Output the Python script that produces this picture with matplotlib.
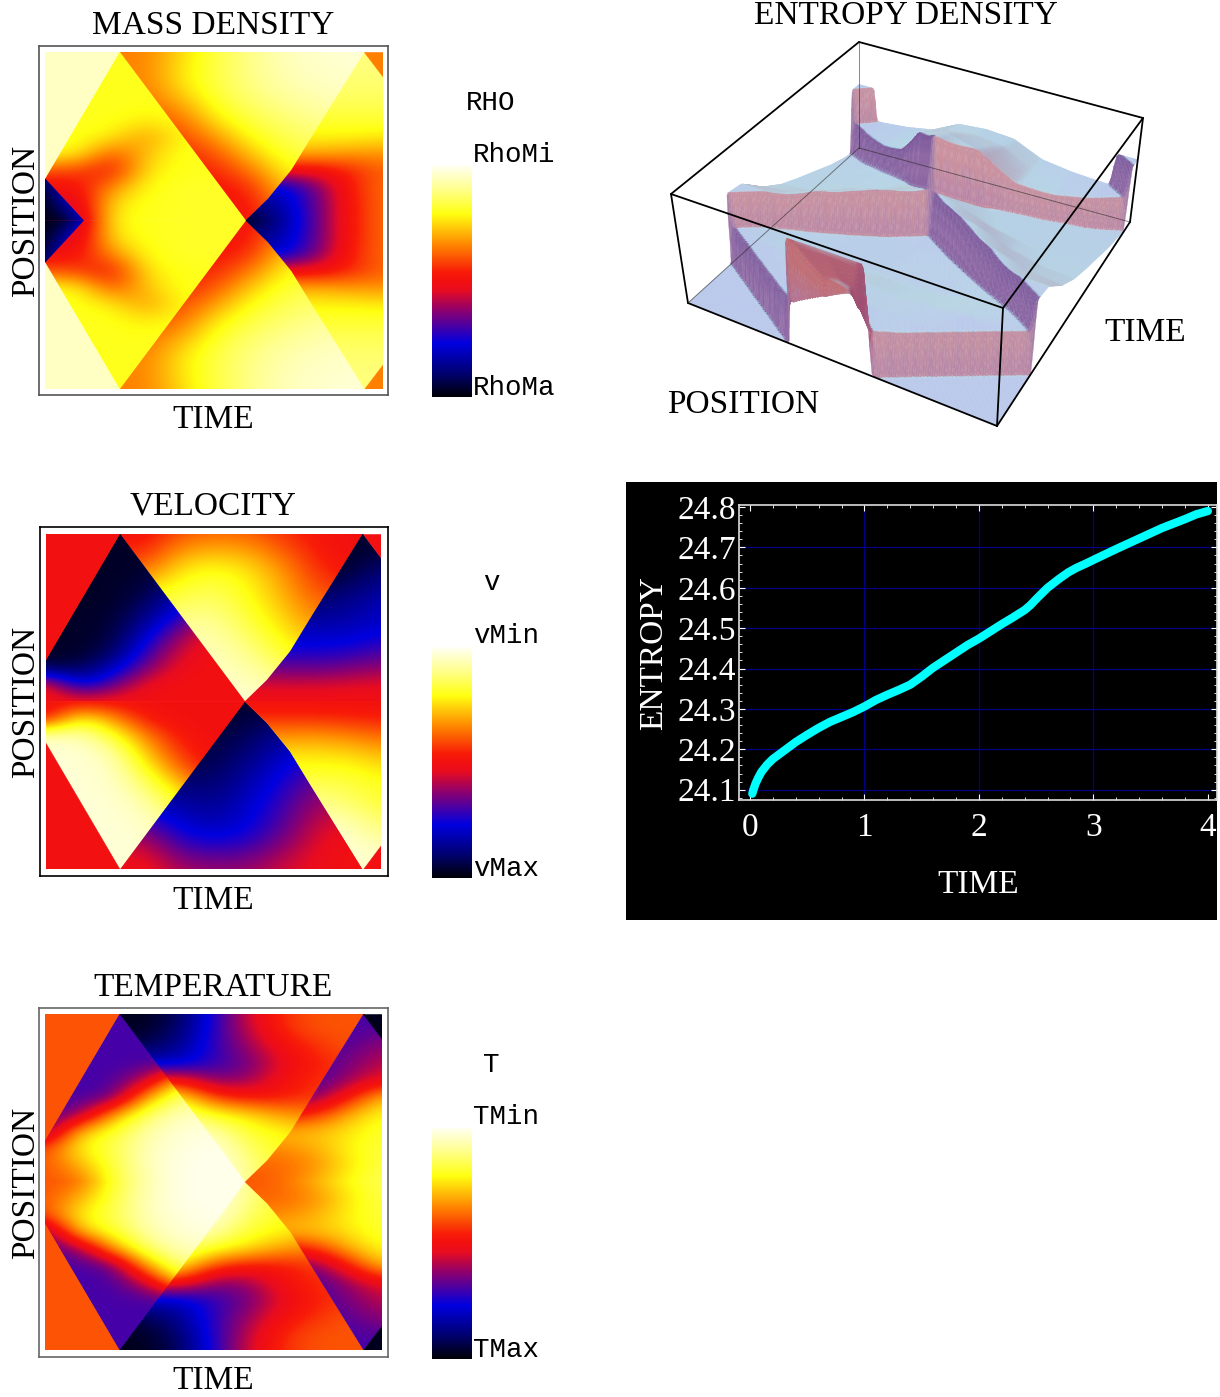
# plot.py — hydro shock-tube panels: three space-time maps, entropy surface, total entropy curve
import numpy as np
import matplotlib
matplotlib.use("Agg")
import matplotlib.pyplot as plt
from matplotlib.collections import PolyCollection
from matplotlib.colors import LinearSegmentedColormap
from matplotlib.patches import Polygon
from matplotlib.path import Path

plt.rcParams["font.family"] = ["Liberation Serif", "DejaVu Serif"]

W, H = 1220, 1397

# --- total entropy curve
ent_time = [0.02, 0.03, 0.05, 0.075, 0.1, 0.15, 0.2, 0.3, 0.4, 0.5, 0.6, 0.7, 0.8, 0.9, 1.0, 1.1, 1.2, 1.3, 1.4, 1.5,
            1.6, 1.75, 1.9, 2.0, 2.1, 2.2, 2.3, 2.4, 2.45, 2.5, 2.6, 2.7, 2.78, 2.85, 2.95, 3.0, 3.2, 3.4, 3.6, 3.8,
            3.9, 4.0]
ent_total = [24.09, 24.1, 24.116, 24.131, 24.144, 24.162, 24.176, 24.197, 24.218, 24.236, 24.253, 24.268, 24.28,
             24.292, 24.306, 24.322, 24.335, 24.347, 24.36, 24.38, 24.402, 24.43, 24.458, 24.474, 24.492, 24.51,
             24.527, 24.545, 24.557, 24.572, 24.6, 24.622, 24.638, 24.649, 24.662, 24.669, 24.696, 24.722, 24.748,
             24.77, 24.782, 24.79]
x_ticks = [0, 1, 2, 3, 4]
y_ticks = [24.1, 24.2, 24.3, 24.4, 24.5, 24.6, 24.7, 24.8]

# --- colour scale stops
cbar_stops = [0.0, 0.1, 0.23, 0.37, 0.46, 0.5, 0.54, 0.65, 0.79, 0.9, 1.0]
cbar_colors = ["#000008", "#000070", "#0000e0", "#8c0070", "#e80c20", "#f21010", "#f81c08", "#ff8000", "#ffff10",
               "#ffff90", "#fffff4"]

# --- region outlines (time, position from the top), upper half; lower half is the mirror image
poly_front = [(0, 0), (0.22, 0), (0, 0.375)]
poly_r2 = [(0, 0.375), (0.22, 0), (0.593, 0.5), (0, 0.5)]
poly_r3 = [(0.22, 0), (0.945, 0), (0.79, 0.25), (0.729, 0.35), (0.66, 0.435), (0.593, 0.5)]
poly_r4 = [(0.945, 0), (1, 0.073), (1, 0.5), (0.593, 0.5), (0.66, 0.435), (0.729, 0.35), (0.79, 0.25)]
poly_r5 = [(0.945, 0), (1, 0), (1, 0.073)]
poly_tip = [(0, 0.375), (0.115, 0.5), (0, 0.5)]

# grid extents of each region: t0, t1, y0, y1
ext_r2 = (0, 0.6, 0, 0.5)
ext_r3 = (0.2, 1, 0, 0.5)
ext_r4 = (0.6, 1, 0, 0.5)
ext_tip = (0, 0.12, 0.375, 0.5)

# --- mass density
rho_front, rho_corner = 0.95, 0.65
rho_r2 = [[.8, .8, .8, .8, .8, .8, .8],
          [.8, .8, .8, .8, .8, .8, .8],
          [.8, .8, .8, .8, .8, .8, .8],
          [.8, .8, .8, .8, .8, .8, .8],
          [.8, .8, .8, .77, .8, .8, .8],
          [.8, .8, .77, .68, .78, .8, .8],
          [.8, .78, .6, .72, .8, .8, .8],
          [.6, .58, .52, .76, .8, .8, .8],
          [.5, .52, .66, .79, .81, .81, .81],
          [.45, .45, .76, .8, .81, .81, .81],
          [.4, .4, .78, .8, .81, .81, .81]]
rho_r3 = [[.65, .65, .74, .83, .89, .94, .96, .97, .97],
          [.66, .66, .78, .84, .89, .93, .95, .96, .97],
          [.6, .6, .62, .78, .84, .87, .9, .92, .93],
          [.55, .55, .55, .58, .74, .82, .84, .85, .85],
          [.52, .52, .52, .52, .53, .72, .8, .8, .8],
          [.5, .5, .5, .5, .52, .6, .7, .7, .7]]
rho_r4 = [[.88, .88, .88, .88, .88],
          [.88, .88, .88, .88, .88],
          [.87, .87, .87, .87, .87],
          [.85, .85, .85, .85, .85],
          [.82, .82, .82, .82, .82],
          [.78, .78, .78, .78, .77],
          [.7, .7, .7, .68, .67],
          [.5, .5, .5, .55, .62],
          [.2, .2, .34, .54, .63],
          [.1, .17, .32, .53, .63],
          [.02, .14, .32, .53, .63]]
rho_tip = [[.1, .2, .3],
           [.01, .2, .3],
           [.01, .01, .22]]

# --- velocity (lower half runs the other way through the scale)
vel_front, vel_corner = 0.5, 0.5
vel_r2 = [[.03, .03, .03, .03, .12, .35, .45],
          [.03, .03, .03, .03, .12, .35, .45],
          [.03, .03, .03, .03, .12, .35, .45],
          [.03, .03, .03, .05, .12, .3, .45],
          [.03, .03, .03, .08, .2, .35, .45],
          [.03, .03, .04, .13, .27, .42, .48],
          [.03, .03, .05, .2, .38, .48, .5],
          [.03, .03, .08, .28, .44, .5, .5],
          [.06, .07, .18, .36, .48, .5, .5],
          [.5, .2, .33, .48, .5, .5, .5],
          [.5, .5, .5, .5, .5, .5, .5]]
vel_r3 = [[.5, .5, .58, .6, .6, .55, .52, .5, .5],
          [.6, .6, .76, .8, .77, .68, .56, .5, .5],
          [.84, .84, .84, .87, .8, .72, .62, .6, .6],
          [.93, .93, .93, .93, .86, .78, .7, .7, .7],
          [.95, .95, .95, .95, .93, .86, .8, .8, .8],
          [.97, .97, .97, .97, .97, .97, .97, .97, .97]]
vel_r4 = [[.03, .03, .03, .03, .05],
          [.03, .03, .03, .03, .05],
          [.03, .03, .03, .04, .1],
          [.05, .05, .06, .08, .14],
          [.08, .08, .1, .13, .18],
          [.14, .14, .15, .16, .2],
          [.2, .2, .2, .2, .24],
          [.25, .25, .25, .26, .3],
          [.34, .34, .33, .35, .38],
          [.44, .44, .44, .45, .46],
          [.5, .5, .5, .5, .5]]

# --- temperature
tmp_front, tmp_corner = 0.6, 0.02
tmp_r2 = [[.3, .3, .3, .3, .3, .3, .3],
          [.3, .3, .3, .3, .3, .3, .3],
          [.3, .3, .3, .3, .3, .3, .3],
          [.3, .3, .3, .3, .3, .3, .3],
          [.3, .3, .3, .42, .75, .85, .85],
          [.3, .3, .32, .7, .88, .9, .9],
          [.3, .36, .68, .86, .94, .95, .95],
          [.32, .72, .81, .92, .97, .98, .98],
          [.58, .78, .84, .94, .98, .99, .99],
          [.6, .7, .83, .94, .99, .99, .99],
          [.6, .62, .82, .93, .99, .99, .99]]
tmp_r3 = [[.02, .02, .08, .26, .44, .56, .6, .6, .6],
          [.02, .03, .1, .27, .42, .55, .6, .6, .6],
          [.05, .08, .14, .28, .38, .5, .56, .6, .6],
          [.2, .2, .2, .28, .34, .46, .54, .57, .57],
          [.5, .5, .52, .36, .38, .5, .56, .57, .57],
          [.78, .78, .78, .58, .52, .53, .57, .57, .57],
          [.88, .88, .88, .8, .75, .68, .65, .65, .65],
          [.95, .95, .95, .92, .82, .78, .75, .75, .75],
          [.98, .98, .98, .98, .86, .8, .8, .8, .8],
          [.99, .99, .99, .99, .9, .8, .8, .8, .8],
          [.99, .99, .99, .99, .9, .8, .8, .8, .8]]
tmp_r4 = [[.3, .3, .3, .3, .3],
          [.3, .3, .3, .3, .32],
          [.3, .3, .3, .32, .38],
          [.3, .3, .3, .35, .42],
          [.3, .3, .3, .38, .48],
          [.35, .35, .35, .52, .72],
          [.5, .5, .55, .7, .79],
          [.72, .72, .72, .76, .82],
          [.66, .66, .7, .78, .83],
          [.62, .62, .66, .76, .84],
          [.6, .62, .7, .79, .85]]

# --- entropy density surface heights, as a fraction of the box height
sur_front, sur_corner = 0.0, 0.6
sur_r2 = [[.33, .33, .33, .33, .33, .33, .33],
          [.33, .33, .33, .3, .3, .3, .3],
          [.33, .33, .33, .25, .22, .2, .2],
          [.33, .33, .3, .2, .18, .15, .15],
          [.36, .35, .28, .18, .15, .12, .12],
          [.36, .36, .3, .18, .13, .1, .1]]
sur_r3 = [[.63, .6, .42, .3, .22, .15, .08, .03, 0],
          [.63, .6, .45, .32, .24, .17, .1, .04, .02],
          [.6, .6, .55, .38, .27, .2, .14, .1, .1],
          [.58, .58, .58, .5, .32, .25, .2, .18, .18],
          [.55, .55, .55, .55, .42, .3, .28, .28, .28],
          [.52, .52, .52, .52, .5, .35, .35, .35, .35]]
sur_r4 = [[.3, .3, .3, .3, .3],
          [.3, .3, .3, .3, .3],
          [.35, .35, .35, .33, .32],
          [.5, .5, .45, .4, .36],
          [.8, .8, .68, .55, .48],
          [1, .88, .72, .58, .5]]
sur_tip = [[.97, .5, .36],
           [.97, .55, .36],
           [.97, .6, .36]]

# box corners on the page: (position, time) = left (0,0), front (1,0), right (1,1), back (0,1)
box_floor = {"left": (688, 303), "front": (997, 426), "right": (1130, 222), "back": (859, 148)}
box_top = {"left": (671, 194), "front": (1003, 308), "right": (1143, 118), "back": (859, 42)}
persp_u, persp_t = 1.18, 0.79  # foreshortening along each floor edge

CMAP = LinearSegmentedColormap.from_list("hot_bar", list(zip(cbar_stops, cbar_colors)), N=512)


def px_axes(fig, x0, y0, x1, y1, **kw):
    """Axes from page pixel box, y measured from the top."""
    return fig.add_axes([x0 / W, 1 - y1 / H, (x1 - x0) / W, (y1 - y0) / H], **kw)


def draw_grid(ax, poly, ext, vals, flip, invert):
    """One region: smooth image of the read grid, clipped to the region outline."""
    vals = np.array(vals, dtype=float)
    t0, t1, y0, y1 = ext
    nr, nc = vals.shape
    dt = (t1 - t0) / (nc - 1)
    dy = (y1 - y0) / (nr - 1)
    pts = np.array(poly, dtype=float)
    # grow a hair so neighbouring regions overlap with no seam
    pts = pts.mean(axis=0) + (pts - pts.mean(axis=0)) * 1.006
    if flip:
        pts[:, 1] = 1 - pts[:, 1]
        y0, y1 = 1 - y0, 1 - y1
        dy = -dy
    if invert:
        vals = 1 - vals
    im = ax.imshow(vals, cmap=CMAP, vmin=0, vmax=1, aspect="auto", interpolation="bicubic",
                   interpolation_stage="data", origin="upper",
                   extent=(t0 - dt / 2, t1 + dt / 2, y1 + dy / 2, y0 - dy / 2))
    im.set_clip_path(Polygon(pts, closed=True, transform=ax.transData))


def draw_map(fig, box, inner, frame_color, front, corner, r2, r3, r4, tip=None, invert_lower=False):
    fr = px_axes(fig, *box, zorder=2)
    fr.set_xticks([])
    fr.set_yticks([])
    fr.patch.set_alpha(0)
    for s in fr.spines.values():
        s.set_color(frame_color)
        s.set_linewidth(1.2)
    ax = px_axes(fig, *inner, zorder=1)
    for flip in (False, True):
        inv = flip and invert_lower
        for poly, val in ((poly_front, front), (poly_r5, corner)):
            pts = np.array(poly, dtype=float)
            if flip:
                pts[:, 1] = 1 - pts[:, 1]
            ax.fill(pts[:, 0], pts[:, 1], color=CMAP(1 - val if inv else val), lw=0.4)
        draw_grid(ax, poly_r3, ext_r3, r3, flip, inv)
        draw_grid(ax, poly_r4, ext_r4, r4, flip, inv)
        draw_grid(ax, poly_r2, ext_r2, r2, flip, inv)
    if tip is not None:
        for flip in (False, True):
            draw_grid(ax, poly_tip, ext_tip, tip, flip, flip and invert_lower)
    ax.set_xlim(0, 1)
    ax.set_ylim(1, 0)
    ax.axis("off")
    return ax


def draw_cbar(fig, y0, y1):
    ax = px_axes(fig, 432, y0, 472, y1, zorder=1)
    ax.imshow(np.linspace(1, 0, 256)[:, None], cmap=CMAP, vmin=0, vmax=1, aspect="auto")
    ax.axis("off")


def sample(tq, yq, ext, vals):
    vals = np.array(vals, dtype=float)
    t0, t1, y0, y1 = ext
    nr, nc = vals.shape
    fi = np.clip((yq - y0) / (y1 - y0) * (nr - 1), 0, nr - 1.001)
    fj = np.clip((tq - t0) / (t1 - t0) * (nc - 1), 0, nc - 1.001)
    i, j = fi.astype(int), fj.astype(int)
    a, b = fi - i, fj - j
    return (vals[i, j] * (1 - a) * (1 - b) + vals[i + 1, j] * a * (1 - b)
            + vals[i, j + 1] * (1 - a) * b + vals[i + 1, j + 1] * a * b)


def surface_heights(n):
    us = np.linspace(0, 1, n)
    ts = np.linspace(0, 1, n)
    tt, uu = np.meshgrid(ts, us, indexing="ij")
    yy = np.where(uu <= 0.5, uu, 1 - uu)
    q = np.column_stack([tt.ravel(), yy.ravel()])
    h = np.full(tt.shape, sur_front, dtype=float)
    for poly, ext, vals in ((poly_r2, ext_r2, sur_r2), (poly_tip, ext_tip, sur_tip),
                            (poly_r3, ext_r3, sur_r3), (poly_r4, ext_r4, sur_r4)):
        mask = Path(poly).contains_points(q, radius=1e-9).reshape(tt.shape)
        h[mask] = sample(tt[mask], yy[mask], ext, vals)
    mask = Path(poly_r5).contains_points(q, radius=1e-9).reshape(tt.shape)
    h[mask] = sur_corner
    return tt, uu, h


def smooth(a, kernel):
    k = np.array(kernel, dtype=float)
    k /= k.sum()
    pad = len(k) // 2
    a = np.pad(a, pad, mode="edge")
    a = np.apply_along_axis(lambda r: np.convolve(r, k, mode="valid"), 0, a)
    a = np.apply_along_axis(lambda r: np.convolve(r, k, mode="valid"), 1, a)
    return a


def project(uu, tt, hh):
    uv = uu / (uu + persp_u * (1 - uu))
    tv = tt / (tt + persp_t * (1 - tt))

    def bilin(c):
        l, f, r, b = [np.array(c[k], dtype=float) for k in ("left", "front", "right", "back")]
        out = []
        for d in range(2):
            out.append(l[d] * (1 - uv) * (1 - tv) + f[d] * uv * (1 - tv) + r[d] * uv * tv + b[d] * (1 - uv) * tv)
        return np.array(out)
    lo, hi = bilin(box_floor), bilin(box_top)
    return lo + (hi - lo) * hh


def draw_surface(ax):
    tt, uu, h = surface_heights(190)
    geo = smooth(h, [1, 2, 1])
    soft = smooth(h, [1, 2, 3, 2, 1])
    gt, gu = np.gradient(soft, tt[:, 0], uu[0, :])
    slope = np.hypot(gu, gt) + 1e-9
    nu, nt = -gu / slope, -gt / slope
    wu, wt = ((nu + 1) / 2)[..., None], ((nt + 1) / 2)[..., None]
    # wall colours by facing direction: towards viewer right, viewer left, and the two undersides
    pink, purple = np.array([.90, .68, .66]), np.array([.36, .28, .64])
    under_r, under_l = np.array([.55, .22, .42]), np.array([.85, .50, .45])
    wall = (wu * (1 - wt) * pink + (1 - wu) * (1 - wt) * purple + wu * wt * under_r + (1 - wu) * wt * under_l)
    # foot of each wall goes mauve, as in the lit surface
    mauve = np.array([.66, .48, .68])
    m = np.clip((soft - geo) * 10, 0, 1)[..., None] * 0.8
    wall = wall * (1 - m) + mauve * m
    flat = np.array([.73, .79, .92])
    tint = np.array([.72, .92, .98])
    a = np.clip(slope / 6, 0, 1)[..., None]
    b = np.clip(slope / 1.0, 0, 1)[..., None] * (1 - a)
    col = flat * (1 - a - b) + tint * b + wall * a
    px, py = project(uu, tt, geo)
    polys, faces = [], []
    n = tt.shape[0]
    # painter's order: back corner (t=1, u=0) to front corner (t=0, u=1)
    for i in range(n - 2, -1, -1):
        for j in range(n - 1):
            polys.append([(px[i, j], py[i, j]), (px[i, j + 1], py[i, j + 1]),
                          (px[i + 1, j + 1], py[i + 1, j + 1]), (px[i + 1, j], py[i + 1, j])])
            faces.append(col[i, j])
    coll = PolyCollection(polys, facecolors=faces, edgecolors=faces, linewidths=0.25, zorder=2)
    ax.add_collection(coll)


def draw_box(ax):
    t, f = box_top, box_floor
    strong = [(t["left"], t["back"]), (t["back"], t["right"]), (t["right"], t["front"]), (t["front"], t["left"]),
              (t["left"], f["left"]), (t["right"], f["right"]), (t["front"], f["front"]),
              (f["left"], f["front"]), (f["front"], f["right"])]
    for a, b in strong:
        ax.plot([a[0], b[0]], [a[1], b[1]], color="black", lw=1.3, zorder=3, solid_capstyle="round")
    faint = [(t["back"], f["back"]), (f["left"], f["back"]), (f["back"], f["right"])]
    for a, b in faint:
        ax.plot([a[0], b[0]], [a[1], b[1]], color="#222222", lw=0.7, alpha=0.55, zorder=3)


fig = plt.figure(figsize=(W / 100, H / 100), dpi=100, facecolor="white")
canvas = fig.add_axes([0, 0, 1, 1], zorder=3)
canvas.set_xlim(0, W)
canvas.set_ylim(H, 0)
canvas.axis("off")
canvas.patch.set_alpha(0)

# left column maps
draw_map(fig, (39, 46, 388, 395), (45, 52, 383, 389), "#555555", rho_front, rho_corner, rho_r2, rho_r3, rho_r4,
         tip=rho_tip)
draw_map(fig, (39.5, 527, 387.5, 876), (46, 534, 381, 869), "black", vel_front, vel_corner, vel_r2, vel_r3, vel_r4,
         invert_lower=True)
draw_map(fig, (38.5, 1007.5, 388, 1357), (45, 1014, 382, 1350), "#666666", tmp_front, tmp_corner, tmp_r2, tmp_r3,
         tmp_r4)
draw_cbar(fig, 165, 397)
draw_cbar(fig, 647, 878)
draw_cbar(fig, 1128, 1359)


def label(x, y, s, size=24, rot=0, ha="center", family=None, color="black"):
    # text box centres sit a little off the glyph centres
    if rot:
        x += 3
    else:
        y += 2.5
    canvas.text(x, y, s, fontsize=size, rotation=rot, ha=ha, va="center", color=color,
                family=family if family else ["Liberation Serif", "DejaVu Serif"], zorder=6)


for cx, y_title, title, y_time, y_pos in ((213, 23, "MASS DENSITY", 417, 221),
                                          (213, 504, "VELOCITY", 898, 702),
                                          (213, 985, "TEMPERATURE", 1378, 1183)):
    label(cx, y_title, title)
    label(cx, y_time, "TIME")
    label(23, y_pos, "POSITION", rot=90)

mono = ["Liberation Mono", "DejaVu Sans Mono"]
for x, y, s, ha in ((491, 100.5, "RHO", "center"), (473, 152.5, "RhoMi", "left"), (473, 385.5, "RhoMa", "left"),
                    (491, 580.5, "v", "center"), (473, 633.5, "vMin", "left"), (473, 866.5, "vMax", "left"),
                    (491, 1062.5, "T", "center"), (473, 1114.5, "TMin", "left"), (473, 1347.5, "TMax", "left")):
    label(x, y, s, size=19.8, ha=ha, family=mono)

# entropy surface panel
draw_surface(canvas)
draw_box(canvas)
label(906, 13, "ENTROPY DENSITY")
label(1145, 330, "TIME")
label(743, 402, "POSITION")

# entropy curve panel
panel = px_axes(fig, 626, 482, 1217, 920, zorder=1, facecolor="black")
panel.set_xticks([])
panel.set_yticks([])
for s in panel.spines.values():
    s.set_visible(False)
ax = px_axes(fig, 739, 505, 1217, 800, zorder=2, facecolor="black")
ax.plot(ent_time, ent_total, color="#00ffff", lw=6, solid_capstyle="round", solid_joinstyle="round", zorder=3)
ax.set_xlim(-0.096, 4.08)
ax.set_ylim(24.0744, 24.805)
ax.set_xticks(x_ticks)
ax.set_yticks(y_ticks)
ax.set_yticklabels([f"{v:.1f}" for v in y_ticks])
ax.set_xticks(np.arange(0, 4.01, 0.2), minor=True)
ax.set_yticks(np.arange(24.08, 24.81, 0.02), minor=True)
ax.grid(True, which="major", color="#000080", lw=0.9)
ax.set_axisbelow(True)
# no grid line on the end ticks
ax.get_xgridlines()[0].set_visible(False)
ax.get_xgridlines()[-1].set_visible(False)
ax.get_ygridlines()[-1].set_visible(False)
ax.tick_params(which="major", direction="in", length=4, width=0.8, color="white", top=True, right=True,
               labelcolor="white", labelsize=24)
ax.tick_params(axis="x", which="major", pad=9)
ax.tick_params(axis="y", which="major", pad=2)
ax.tick_params(which="minor", direction="in", length=2, width=0.6, color="white", top=True, right=True)
for s in ax.spines.values():
    s.set_color("#dddddd")
    s.set_linewidth(1.2)
label(651, 653, "ENTROPY", rot=90, color="white")
label(978, 882, "TIME", color="white")

plt.savefig("out.png", dpi=100)
plt.close(fig)
